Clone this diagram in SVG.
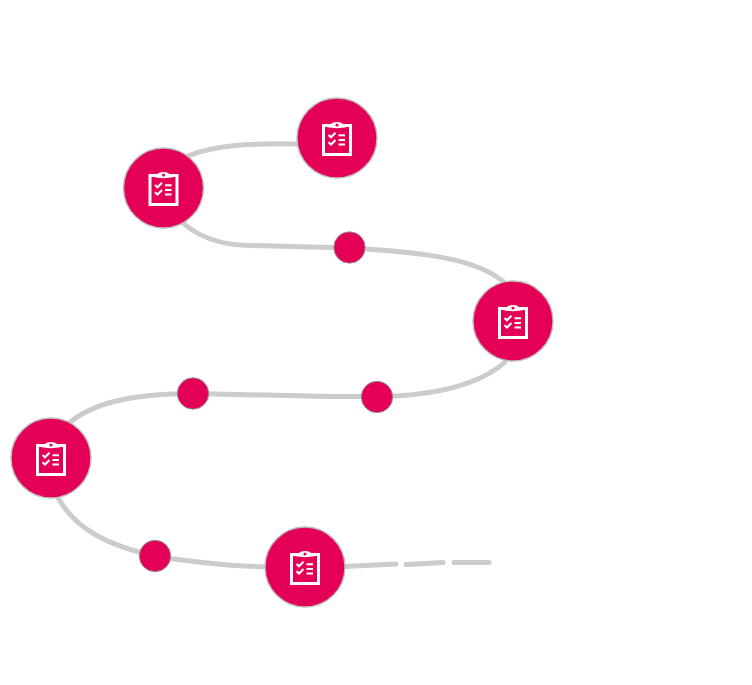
<svg xmlns="http://www.w3.org/2000/svg" width="752" height="685" viewBox="0 0 752 685">
<style>
.link{fill:none;stroke:#cccccc;stroke-width:5;stroke-linecap:round}
.big{fill:#e50057;stroke:#bdbdbd;stroke-width:1.4}
.small{fill:#e50057;stroke:#8f8f8f;stroke-width:1}
.clip{fill:none;stroke:#fff;stroke-width:3}
.tab{fill:#fff}
.dot{fill:#e50057}
.tick{fill:none;stroke:#fff;stroke-width:2.1}
.bar{stroke:#fff;stroke-width:2}
</style>
<defs>
<g id="icon">
<rect class="clip" x="-13.500" y="-12.500" width="27" height="29"/>
<path class="tab" d="M-10-11V-14H-6C-4-16.800 4-16.800 6-14H10V-11C4-9.500-4-9.500-10-11Z"/>
<circle class="dot" cx="0" cy="-13" r="1.600"/>
<path class="tick" d="M-8.500-3L-6-.8L-1.500-5.300M-8.500 4.300L-6 6.500L-1.500 2"/>
<path class="bar" d="M1.500-2.800H8M1.500 2H8M1.500 6.500H8"/>
</g>
</defs>
<g id="connectors">
<path class="link" d="M188 156C215 145 250 143 298 144"/>
<path class="link" d="M183 223C200 238 222 245 249 245.500L350 248C420 252 480 258 507 285"/>
<path class="link" d="M505 362C478 386 430 396 377 396.500L330 396.500L193 393.500C140 394 95 400 68 424"/>
<path class="link" d="M57 496C75 530 110 546 155 556C190 562 230 566 268 567"/>
<path class="link" d="M344 566.500L396 564"/>
<path class="link" d="M406 564.500L443 562.500"/>
<path class="link" d="M454 562.500L489 562.500"/>
</g>
<g id="node-1"><circle class="big" cx="337" cy="138" r="40"/><use href="#icon" x="337" y="138"/></g>
<g id="node-2"><circle class="big" cx="163.500" cy="188" r="40"/><use href="#icon" x="163.500" y="188"/></g>
<g id="node-3"><circle class="big" cx="513" cy="321" r="40"/><use href="#icon" x="513" y="321"/></g>
<g id="node-4"><circle class="big" cx="51" cy="458" r="40"/><use href="#icon" x="51" y="458"/></g>
<g id="node-5"><circle class="big" cx="305" cy="567" r="40"/><use href="#icon" x="305" y="567"/></g>
<g id="dot-1"><circle class="small" cx="349.500" cy="247.500" r="15.700"/></g>
<g id="dot-2"><circle class="small" cx="377" cy="397" r="15.700"/></g>
<g id="dot-3"><circle class="small" cx="193" cy="393.500" r="15.700"/></g>
<g id="dot-4"><circle class="small" cx="155" cy="556" r="15.700"/></g>
</svg>
